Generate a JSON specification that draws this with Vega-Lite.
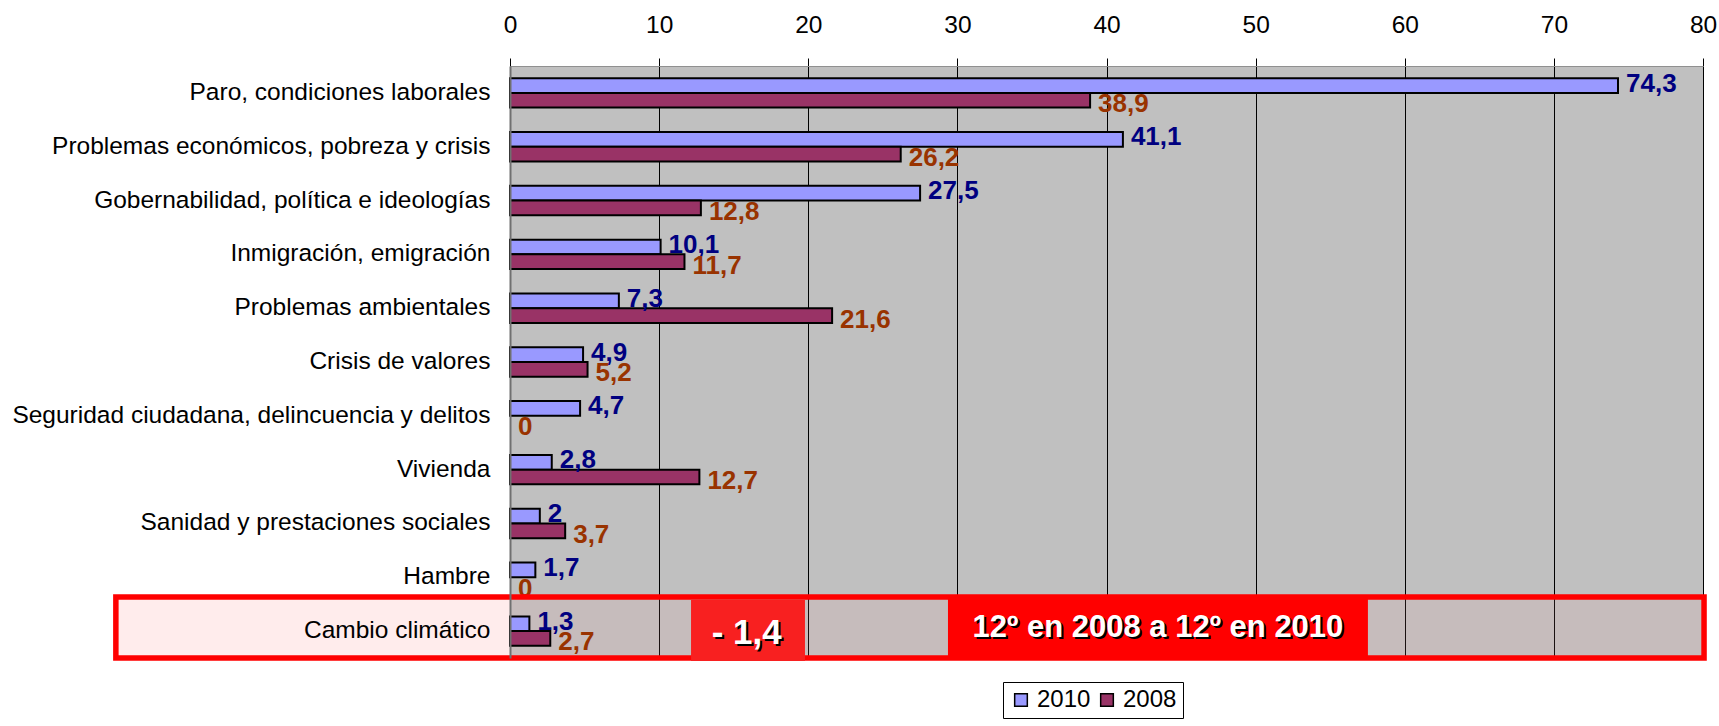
{
  "$schema": "https://vega.github.io/schema/vega-lite/v6.json",
  "width": 1193,
  "height": 592,
  "autosize": {"type": "none"},
  "padding": {"left": 510, "top": 66, "right": 16, "bottom": 68},
  "background": "white",
  "config": {
    "locale": {"number": {"decimal": ",", "thousands": ".", "grouping": [3], "currency": ["", " €"]}},
    "view": {"fill": "#c0c0c0", "stroke": null},
    "font": "Liberation Sans"
  },
  "datasets": {
    "main": [
      {"cat": "Paro, condiciones laborales", "year": "2010", "value": 74.3},
      {"cat": "Paro, condiciones laborales", "year": "2008", "value": 38.9},
      {"cat": "Problemas económicos, pobreza y crisis", "year": "2010", "value": 41.1},
      {"cat": "Problemas económicos, pobreza y crisis", "year": "2008", "value": 26.2},
      {"cat": "Gobernabilidad, política e ideologías", "year": "2010", "value": 27.5},
      {"cat": "Gobernabilidad, política e ideologías", "year": "2008", "value": 12.8},
      {"cat": "Inmigración, emigración", "year": "2010", "value": 10.1},
      {"cat": "Inmigración, emigración", "year": "2008", "value": 11.7},
      {"cat": "Problemas ambientales", "year": "2010", "value": 7.3},
      {"cat": "Problemas ambientales", "year": "2008", "value": 21.6},
      {"cat": "Crisis de valores", "year": "2010", "value": 4.9},
      {"cat": "Crisis de valores", "year": "2008", "value": 5.2},
      {"cat": "Seguridad ciudadana, delincuencia y delitos", "year": "2010", "value": 4.7},
      {"cat": "Seguridad ciudadana, delincuencia y delitos", "year": "2008", "value": 0},
      {"cat": "Vivienda", "year": "2010", "value": 2.8},
      {"cat": "Vivienda", "year": "2008", "value": 12.7},
      {"cat": "Sanidad y prestaciones sociales", "year": "2010", "value": 2},
      {"cat": "Sanidad y prestaciones sociales", "year": "2008", "value": 3.7},
      {"cat": "Hambre", "year": "2010", "value": 1.7},
      {"cat": "Hambre", "year": "2008", "value": 0},
      {"cat": "Cambio climático", "year": "2010", "value": 1.3},
      {"cat": "Cambio climático", "year": "2008", "value": 2.7}
    ],
    "hl": [{"cat": "Cambio climático"}]
  },
  "data": {"name": "main"},
  "layer": [
    {
      "data": {"name": "hl"},
      "mark": {"type": "bar", "fill": "#ff9090", "fillOpacity": 0.17, "strokeWidth": 0, "height": {"band": 1.134}, "yOffset": -3.6},
      "encoding": {
        "y": {"field": "cat", "type": "nominal", "sort": ["Paro, condiciones laborales","Problemas económicos, pobreza y crisis","Gobernabilidad, política e ideologías","Inmigración, emigración","Problemas ambientales","Crisis de valores","Seguridad ciudadana, delincuencia y delitos","Vivienda","Sanidad y prestaciones sociales","Hambre","Cambio climático"]},
        "x": {"datum": -26.43, "type": "quantitative"},
        "x2": {"datum": 0}
      }
    },
    {
      "data": {"name": "hl"},
      "mark": {"type": "bar", "fill": "#ffa0a0", "fillOpacity": 0.1, "strokeWidth": 0, "height": {"band": 1.134}, "yOffset": -3.6},
      "encoding": {
        "y": {"field": "cat", "type": "nominal", "sort": ["Paro, condiciones laborales","Problemas económicos, pobreza y crisis","Gobernabilidad, política e ideologías","Inmigración, emigración","Problemas ambientales","Crisis de valores","Seguridad ciudadana, delincuencia y delitos","Vivienda","Sanidad y prestaciones sociales","Hambre","Cambio climático"]},
        "x": {"datum": 0, "type": "quantitative"},
        "x2": {"datum": 80.07}
      }
    },
    {
      "transform": [{"filter": "datum.value > 0"}],
      "mark": {"type": "bar", "stroke": "black", "strokeWidth": 2},
      "encoding": {
        "y": {
          "field": "cat", "type": "nominal",
          "sort": ["Paro, condiciones laborales","Problemas económicos, pobreza y crisis","Gobernabilidad, política e ideologías","Inmigración, emigración","Problemas ambientales","Crisis de valores","Seguridad ciudadana, delincuencia y delitos","Vivienda","Sanidad y prestaciones sociales","Hambre","Cambio climático"],
          "scale": {"paddingInner": 0, "paddingOuter": 0},
          "axis": {"title": null, "ticks": false, "tickSize": 0, "domainColor": "#707070", "domainWidth": 2, "labelFontSize": 24.5, "labelColor": "black", "labelPadding": 20, "labelLimit": 700, "zindex": 1, "labelFont": "Liberation Sans"}
        },
        "x": {
          "field": "value", "type": "quantitative",
          "scale": {"domain": [0, 80], "nice": false, "zero": true},
          "axis": {"orient": "top", "title": null, "values": [0,10,20,30,40,50,60,70,80], "grid": true, "gridColor": "black", "gridWidth": 1, "tickColor": "black", "tickSize": 8, "tickWidth": 1, "domainColor": "#909090", "domainWidth": 1, "labelFontSize": 24.5, "labelColor": "black", "labelPadding": 21, "labelFlush": false, "labelFont": "Liberation Sans", "zindex": 0}
        },
        "yOffset": {"field": "year", "type": "nominal", "sort": ["2010", "2008"], "scale": {"paddingInner": 0, "paddingOuter": 0.83}},
        "color": {
          "field": "year", "type": "nominal",
          "scale": {"domain": ["2010", "2008"], "range": ["#9999ff", "#993366"]},
          "legend": {"orient": "none", "legendX": 493, "legendY": 616, "direction": "horizontal", "title": null, "strokeColor": "black", "fillColor": "white", "padding": 6, "symbolType": "square", "symbolSize": 160, "symbolStrokeColor": "black", "symbolStrokeWidth": 1.5, "labelFontSize": 24, "labelFont": "Liberation Sans", "labelColor": "black", "labelOffset": 4, "columnPadding": 4}
        }
      }
    },
    {
      "transform": [{"filter": "datum.year == '2010'"}],
      "mark": {"type": "text", "align": "left", "baseline": "middle", "dx": 8, "dy": -2, "fontSize": 26, "fontWeight": "bold", "color": "#000080", "font": "Liberation Sans"},
      "encoding": {
        "y": {"field": "cat", "type": "nominal", "sort": ["Paro, condiciones laborales","Problemas económicos, pobreza y crisis","Gobernabilidad, política e ideologías","Inmigración, emigración","Problemas ambientales","Crisis de valores","Seguridad ciudadana, delincuencia y delitos","Vivienda","Sanidad y prestaciones sociales","Hambre","Cambio climático"]},
        "yOffset": {"field": "year", "type": "nominal", "sort": ["2010", "2008"]},
        "x": {"field": "value", "type": "quantitative"},
        "text": {"field": "value", "type": "quantitative", "format": "~g"}
      }
    },
    {
      "transform": [{"filter": "datum.year == '2008'"}],
      "mark": {"type": "text", "align": "left", "baseline": "middle", "dx": 8, "dy": 4, "fontSize": 26, "fontWeight": "bold", "color": "#993300", "font": "Liberation Sans"},
      "encoding": {
        "y": {"field": "cat", "type": "nominal", "sort": ["Paro, condiciones laborales","Problemas económicos, pobreza y crisis","Gobernabilidad, política e ideologías","Inmigración, emigración","Problemas ambientales","Crisis de valores","Seguridad ciudadana, delincuencia y delitos","Vivienda","Sanidad y prestaciones sociales","Hambre","Cambio climático"]},
        "yOffset": {"field": "year", "type": "nominal", "sort": ["2010", "2008"]},
        "x": {"field": "value", "type": "quantitative"},
        "text": {"field": "value", "type": "quantitative", "format": "~g"}
      }
    },
    {
      "data": {"name": "hl"},
      "mark": {"type": "bar", "fill": null, "filled": false, "stroke": "#ff0000", "strokeWidth": 5.5, "height": {"band": 1.134}, "yOffset": -3.6},
      "encoding": {
        "y": {"field": "cat", "type": "nominal", "sort": ["Paro, condiciones laborales","Problemas económicos, pobreza y crisis","Gobernabilidad, política e ideologías","Inmigración, emigración","Problemas ambientales","Crisis de valores","Seguridad ciudadana, delincuencia y delitos","Vivienda","Sanidad y prestaciones sociales","Hambre","Cambio climático"]},
        "x": {"datum": -26.43, "type": "quantitative"},
        "x2": {"datum": 80.07}
      }
    },
    {
      "data": {"name": "hl"},
      "mark": {"type": "bar", "fill": "#f82020", "strokeWidth": 0, "height": {"band": 1.134}, "yOffset": -0.6},
      "encoding": {
        "y": {"field": "cat", "type": "nominal", "sort": ["Paro, condiciones laborales","Problemas económicos, pobreza y crisis","Gobernabilidad, política e ideologías","Inmigración, emigración","Problemas ambientales","Crisis de valores","Seguridad ciudadana, delincuencia y delitos","Vivienda","Sanidad y prestaciones sociales","Hambre","Cambio climático"]},
        "x": {"datum": 12.14, "type": "quantitative"},
        "x2": {"datum": 19.78}
      }
    },
    {
      "data": {"name": "hl"},
      "mark": {"type": "bar", "fill": "#ff0000", "strokeWidth": 0, "height": {"band": 1.134}, "yOffset": -3.6},
      "encoding": {
        "y": {"field": "cat", "type": "nominal", "sort": ["Paro, condiciones laborales","Problemas económicos, pobreza y crisis","Gobernabilidad, política e ideologías","Inmigración, emigración","Problemas ambientales","Crisis de valores","Seguridad ciudadana, delincuencia y delitos","Vivienda","Sanidad y prestaciones sociales","Hambre","Cambio climático"]},
        "x": {"datum": 29.37, "type": "quantitative"},
        "x2": {"datum": 57.53}
      }
    },
    {
      "data": {"name": "hl"},
      "mark": {"type": "text", "text": "- 1,4", "align": "center", "baseline": "alphabetic", "dx": 2, "dy": 15, "fontSize": 35, "fontWeight": "bold", "color": "black", "font": "Liberation Sans"},
      "encoding": {
        "y": {"field": "cat", "type": "nominal", "sort": ["Paro, condiciones laborales","Problemas económicos, pobreza y crisis","Gobernabilidad, política e ideologías","Inmigración, emigración","Problemas ambientales","Crisis de valores","Seguridad ciudadana, delincuencia y delitos","Vivienda","Sanidad y prestaciones sociales","Hambre","Cambio climático"]},
        "x": {"datum": 15.87, "type": "quantitative"}
      }
    },
    {
      "data": {"name": "hl"},
      "mark": {"type": "text", "text": "- 1,4", "align": "center", "baseline": "alphabetic", "dx": 0, "dy": 13, "fontSize": 35, "fontWeight": "bold", "color": "white", "font": "Liberation Sans"},
      "encoding": {
        "y": {"field": "cat", "type": "nominal", "sort": ["Paro, condiciones laborales","Problemas económicos, pobreza y crisis","Gobernabilidad, política e ideologías","Inmigración, emigración","Problemas ambientales","Crisis de valores","Seguridad ciudadana, delincuencia y delitos","Vivienda","Sanidad y prestaciones sociales","Hambre","Cambio climático"]},
        "x": {"datum": 15.87, "type": "quantitative"}
      }
    },
    {
      "data": {"name": "hl"},
      "mark": {"type": "text", "text": "12º en 2008 a 12º en 2010", "align": "center", "baseline": "alphabetic", "dx": 2, "dy": 8, "fontSize": 31, "fontWeight": "bold", "color": "black", "font": "Liberation Sans"},
      "encoding": {
        "y": {"field": "cat", "type": "nominal", "sort": ["Paro, condiciones laborales","Problemas económicos, pobreza y crisis","Gobernabilidad, política e ideologías","Inmigración, emigración","Problemas ambientales","Crisis de valores","Seguridad ciudadana, delincuencia y delitos","Vivienda","Sanidad y prestaciones sociales","Hambre","Cambio climático"]},
        "x": {"datum": 43.45, "type": "quantitative"}
      }
    },
    {
      "data": {"name": "hl"},
      "mark": {"type": "text", "text": "12º en 2008 a 12º en 2010", "align": "center", "baseline": "alphabetic", "dx": 0, "dy": 6, "fontSize": 31, "fontWeight": "bold", "color": "white", "font": "Liberation Sans"},
      "encoding": {
        "y": {"field": "cat", "type": "nominal", "sort": ["Paro, condiciones laborales","Problemas económicos, pobreza y crisis","Gobernabilidad, política e ideologías","Inmigración, emigración","Problemas ambientales","Crisis de valores","Seguridad ciudadana, delincuencia y delitos","Vivienda","Sanidad y prestaciones sociales","Hambre","Cambio climático"]},
        "x": {"datum": 43.45, "type": "quantitative"}
      }
    }
  ]
}
